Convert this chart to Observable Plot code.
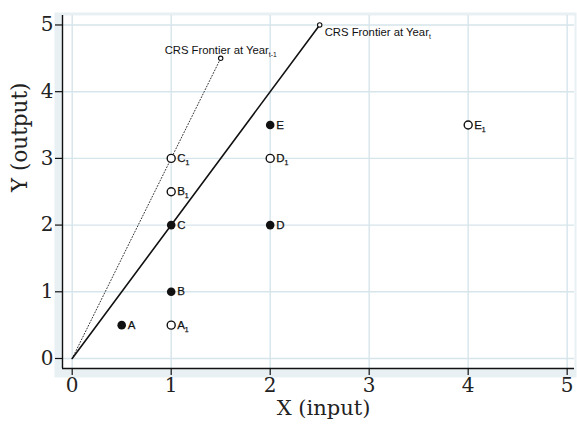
<!DOCTYPE html>
<html><head><meta charset="utf-8">
<script src="https://cdn.jsdelivr.net/npm/d3@7"></script>
<script src="https://cdn.jsdelivr.net/npm/@observablehq/plot@0.6"></script>
<style>body{margin:0;background:#fff} svg{display:block}</style>
</head><body><div id="chart"></div>
<script>
// ---- data ----
const pointNames  = ["A", "B", "C", "D", "E", "A_1", "B_1", "C_1", "D_1", "E_1"];
const pointX      = [0.5, 1,   1,   2,   2,   1,     1,     1,     2,     4];
const pointY      = [0.5, 1,   2,   2,   3.5, 0.5,   2.5,   3,     3,     3.5];
const pointHollow = [false,false,false,false,false,true,true,true,true,true];

const frontierTX = [0, 2.5];
const frontierTY = [0, 5];
const frontierTLabel = "CRS Frontier at Year_t";
const frontierPrevX = [0, 1.5];
const frontierPrevY = [0, 4.5];
const frontierPrevLabel = "CRS Frontier at Year_t-1";

const xTicks = [0, 1, 2, 3, 4, 5];
const yTicks = [0, 1, 2, 3, 4, 5];
const xTitle = "X (input)";
const yTitle = "Y (output)";
const xDomain = [-0.098, 5.074];
const yDomain = [-0.15, 5.142];

// ---- tables ----
const points = pointNames.map((n, i) => ({name: n, x: pointX[i], y: pointY[i], hollow: pointHollow[i]}));
const frontT = frontierTX.map((x, i) => ({x, y: frontierTY[i]}));
const frontP = frontierPrevX.map((x, i) => ({x, y: frontierPrevY[i]}));
const endT = [{...frontT[frontT.length - 1], label: frontierTLabel}];
const endP = [{...frontP[frontP.length - 1], label: frontierPrevLabel}];

const serif = "DejaVu Serif, serif";
const sans = "Liberation Sans, Arial, Helvetica, sans-serif";
const gridColor = "#d6e5eb";

const chart = Plot.plot({
  width: 577,
  height: 424,
  marginLeft: 62,
  marginRight: 3,
  marginTop: 15,
  marginBottom: 56,
  x: {domain: xDomain},
  y: {domain: yDomain},
  style: {background: "white", color: "#222"},
  marks: [
    Plot.frame({fill: "#e8f0f3", stroke: null, insetLeft: -8, insetBottom: -9, insetTop: -3, insetRight: -2}),
    Plot.frame({fill: "white", stroke: null}),
    Plot.gridX(xTicks, {stroke: gridColor, strokeOpacity: 1, strokeWidth: 1.4}),
    Plot.gridY(yTicks, {stroke: gridColor, strokeOpacity: 1, strokeWidth: 1.4}),
    Plot.ruleX([xDomain[0]], {stroke: "#111", strokeWidth: 1.4}),
    Plot.ruleY([yDomain[0]], {stroke: "#111", strokeWidth: 1.4}),
    Plot.axisX(xTicks, {tickSize: 7, tickPadding: 2, tickFormat: "d", fontSize: 20, fontFamily: serif, label: null, stroke: "#111", strokeWidth: 1.2}),
    Plot.axisY(yTicks, {tickSize: 7, tickPadding: 2, tickFormat: "d", fontSize: 20, fontFamily: serif, label: null, stroke: "#111", strokeWidth: 1.2}),
    Plot.text([xTitle], {frameAnchor: "bottom", dx: 5, dy: 46, fontSize: 21, fontFamily: serif, fill: "#222"}),
    Plot.text([yTitle], {frameAnchor: "left", dx: -42, rotate: -90, fontSize: 21.5, fontFamily: serif, fill: "#222"}),
    // frontiers
    Plot.line(frontP, {x: "x", y: "y", stroke: "#333", strokeWidth: 1, strokeDasharray: "1,2"}),
    Plot.line(frontT, {x: "x", y: "y", stroke: "#111", strokeWidth: 1.6}),
    Plot.dot(endP, {x: "x", y: "y", r: 2.2, fill: "white", stroke: "#111", strokeWidth: 1.1}),
    Plot.dot(endT, {x: "x", y: "y", r: 2.2, fill: "white", stroke: "#111", strokeWidth: 1.1}),
    Plot.text(endP, {x: "x", y: "y", text: "label", dy: -8, textAnchor: "middle", fontSize: 11.3, fontFamily: sans, fill: "#111"}),
    Plot.text(endT, {x: "x", y: "y", text: "label", dx: 5, dy: 7, textAnchor: "start", fontSize: 11.3, fontFamily: sans, fill: "#111"}),
    // points
    Plot.dot(points.filter(d => !d.hollow), {x: "x", y: "y", r: 4.3, fill: "#111", stroke: null}),
    Plot.dot(points.filter(d => d.hollow), {x: "x", y: "y", r: 4, fill: "white", stroke: "#111", strokeWidth: 1.4}),
    Plot.text(points, {x: "x", y: "y", text: "name", dx: 6, textAnchor: "start", fontSize: 11.5, fontFamily: sans, fill: "#111", stroke: "#111", strokeWidth: 0.25})
  ]
});

// subscripts: "Base_sub" -> Base<tspan sub>
chart.querySelectorAll("text").forEach(t => {
  if (t.children.length === 0 && t.textContent.includes("_")) {
    const [base, sub] = t.textContent.split("_");
    t.textContent = "";
    const a = document.createElementNS("http://www.w3.org/2000/svg", "tspan");
    a.textContent = base;
    const b = document.createElementNS("http://www.w3.org/2000/svg", "tspan");
    b.textContent = sub;
    b.setAttribute("font-size", "0.6em");
    b.setAttribute("dy", "3");
    t.appendChild(a);
    t.appendChild(b);
  }
});

document.getElementById("chart").appendChild(chart);
</script>
</body></html>
